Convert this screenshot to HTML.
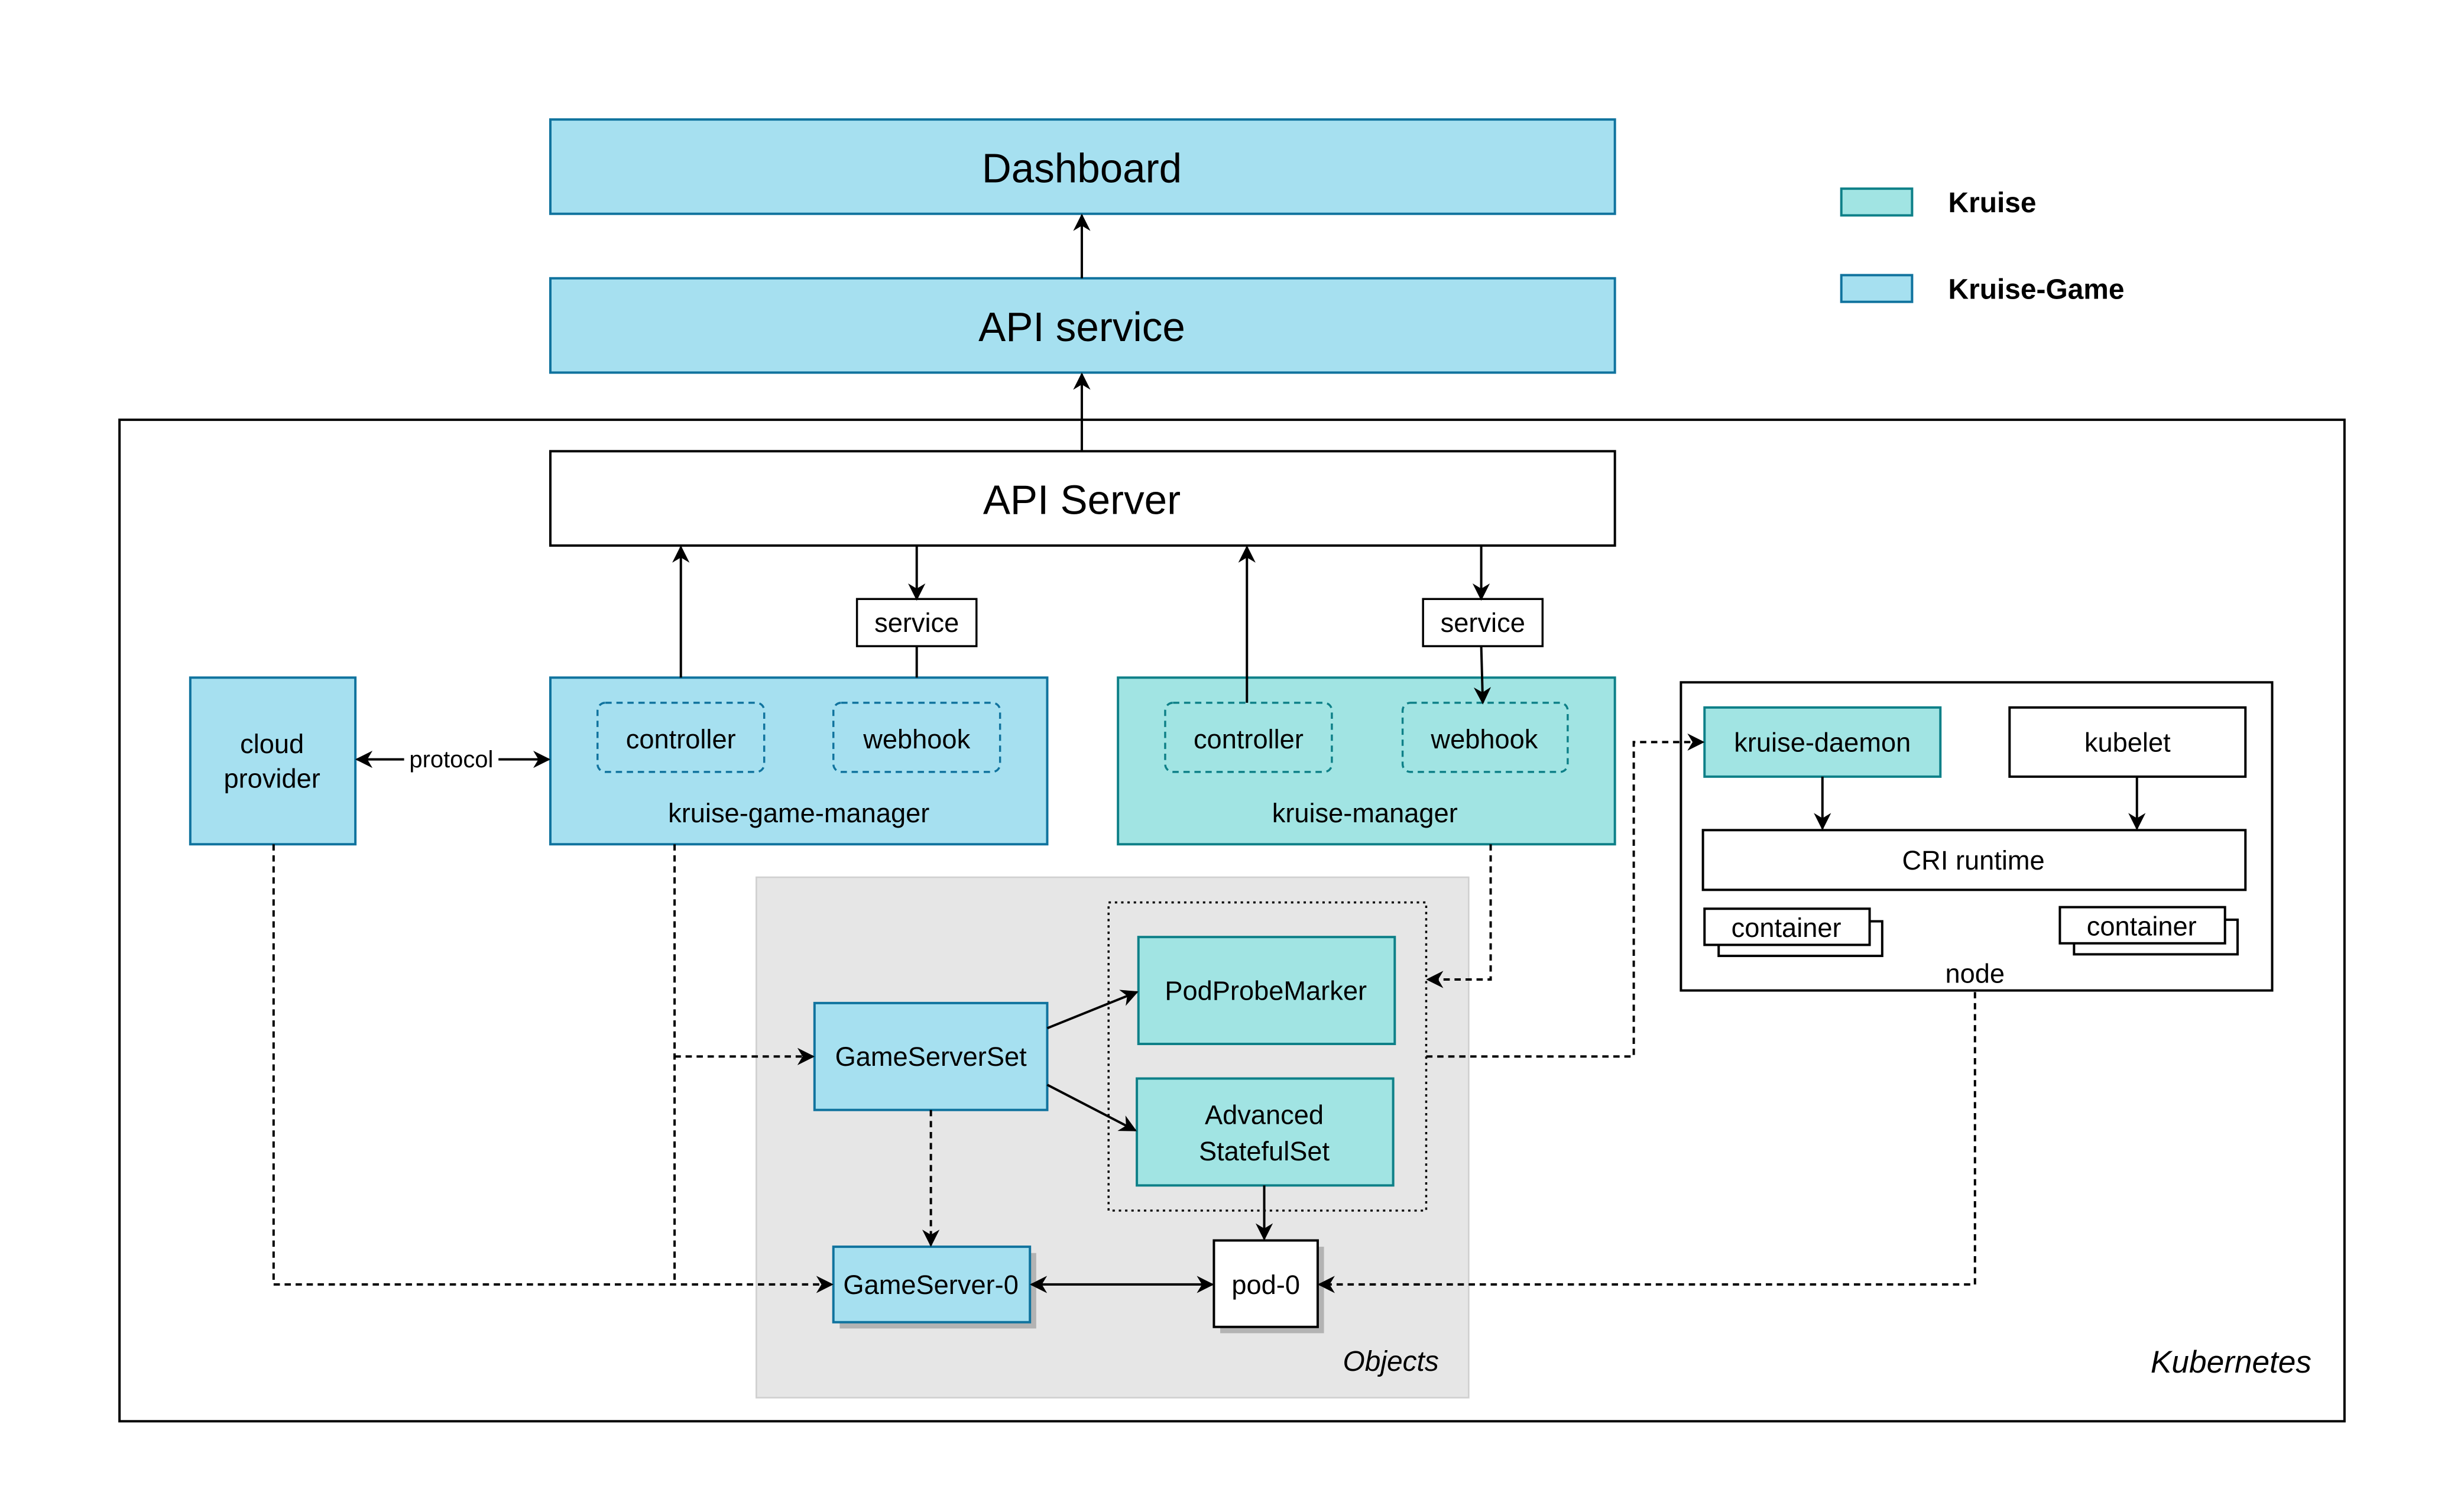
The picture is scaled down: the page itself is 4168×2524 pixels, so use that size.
<!DOCTYPE html>
<html><head><meta charset="utf-8"><style>
html,body{margin:0;padding:0;background:#fff;}
svg{display:block;}
text{font-family:"Liberation Sans",Arial,sans-serif;fill:#000;}
</style></head><body>
<svg width="4168" height="2524" viewBox="0 0 1567 949" preserveAspectRatio="none" xmlns="http://www.w3.org/2000/svg">
<defs>
<marker id="a" viewBox="0 0 10 10" refX="9" refY="5" markerWidth="11" markerHeight="11" markerUnits="userSpaceOnUse" orient="auto-start-reverse">
<path d="M0,0 L10,5 L0,10 L3,5 Z" fill="#000"/></marker>
</defs>
<rect width="1567" height="949" fill="#fff"/>
<rect x="350" y="76" width="677" height="60" fill="#a6e0f0" stroke="#10739e" stroke-width="1.5"/>
<text x="688" y="116" font-size="26" text-anchor="middle">Dashboard</text>
<rect x="350" y="177" width="677" height="60" fill="#a6e0f0" stroke="#10739e" stroke-width="1.5"/>
<text x="688" y="217" font-size="26" text-anchor="middle">API service</text>
<line x1="688" y1="177" x2="688" y2="137" stroke="#000" stroke-width="1.5" marker-end="url(#a)"/>
<line x1="688" y1="287" x2="688" y2="238" stroke="#000" stroke-width="1.5" marker-end="url(#a)"/>
<rect x="1171" y="120" width="45" height="17" fill="#a1e4e3" stroke="#0e8088" stroke-width="1.5"/>
<text x="1239" y="135" font-size="18" font-weight="bold">Kruise</text>
<rect x="1171" y="175" width="45" height="17" fill="#a6e0f0" stroke="#10739e" stroke-width="1.5"/>
<text x="1239" y="190" font-size="18" font-weight="bold">Kruise-Game</text>
<rect x="76" y="267" width="1415" height="637" fill="none" stroke="#000" stroke-width="1.5"/>
<text x="1470" y="873" font-size="20" font-style="italic" text-anchor="end">Kubernetes</text>
<rect x="350" y="287" width="677" height="60" fill="#fff" stroke="#000" stroke-width="1.5"/>
<text x="688" y="327" font-size="26" text-anchor="middle">API Server</text>
<rect x="545" y="381" width="76" height="30" fill="#fff" stroke="#000" stroke-width="1.3"/>
<text x="583" y="402" font-size="17" text-anchor="middle">service</text>
<rect x="905" y="381" width="76" height="30" fill="#fff" stroke="#000" stroke-width="1.3"/>
<text x="943" y="402" font-size="17" text-anchor="middle">service</text>
<rect x="481" y="558" width="453" height="331" fill="#e6e6e6" stroke="#d0d0d0" stroke-width="1"/>
<text x="915" y="872" font-size="18" font-style="italic" text-anchor="end">Objects</text>
<rect x="705" y="574" width="202" height="196" fill="none" stroke="#000" stroke-width="1.3" stroke-dasharray="1.5,2.5"/>
<rect x="121" y="431" width="105" height="106" fill="#a6e0f0" stroke="#10739e" stroke-width="1.5"/>
<text x="173" y="479" font-size="17" text-anchor="middle">cloud</text>
<text x="173" y="501" font-size="17" text-anchor="middle">provider</text>
<rect x="350" y="431" width="316" height="106" fill="#a6e0f0" stroke="#10739e" stroke-width="1.5"/>
<rect x="380" y="447" width="106" height="44" rx="5" fill="none" stroke="#10739e" stroke-width="1.3" stroke-dasharray="4,3"/>
<text x="433" y="476" font-size="17" text-anchor="middle">controller</text>
<rect x="530" y="447" width="106" height="44" rx="5" fill="none" stroke="#10739e" stroke-width="1.3" stroke-dasharray="4,3"/>
<text x="583" y="476" font-size="17" text-anchor="middle">webhook</text>
<text x="508" y="523" font-size="17" text-anchor="middle">kruise-game-manager</text>
<rect x="711" y="431" width="316" height="106" fill="#a1e4e3" stroke="#0e8088" stroke-width="1.5"/>
<rect x="741" y="447" width="106" height="44" rx="5" fill="none" stroke="#0e8088" stroke-width="1.3" stroke-dasharray="4,3"/>
<text x="794" y="476" font-size="17" text-anchor="middle">controller</text>
<rect x="892" y="447" width="105" height="44" rx="5" fill="none" stroke="#0e8088" stroke-width="1.3" stroke-dasharray="4,3"/>
<text x="944" y="476" font-size="17" text-anchor="middle">webhook</text>
<text x="868" y="523" font-size="17" text-anchor="middle">kruise-manager</text>
<line x1="583" y1="347" x2="583" y2="381" stroke="#000" stroke-width="1.5" marker-end="url(#a)"/>
<line x1="583" y1="411" x2="583" y2="431" stroke="#000" stroke-width="1.5"/>
<line x1="433" y1="431" x2="433" y2="348" stroke="#000" stroke-width="1.5" marker-end="url(#a)"/>
<line x1="793" y1="447" x2="793" y2="348" stroke="#000" stroke-width="1.5" marker-end="url(#a)"/>
<line x1="942" y1="347" x2="942" y2="381" stroke="#000" stroke-width="1.5" marker-end="url(#a)"/>
<line x1="942" y1="411" x2="943" y2="447" stroke="#000" stroke-width="1.5" marker-end="url(#a)"/>
<line x1="227" y1="483" x2="349" y2="483" stroke="#000" stroke-width="1.5" marker-start="url(#a)" marker-end="url(#a)"/>
<rect x="257" y="474" width="60" height="17" fill="#fff"/>
<text x="287" y="488" font-size="15" text-anchor="middle">protocol</text>
<rect x="724" y="596" width="163" height="68" fill="#a1e4e3" stroke="#0e8088" stroke-width="1.5"/>
<text x="805" y="636" font-size="17" text-anchor="middle">PodProbeMarker</text>
<rect x="723" y="686" width="163" height="68" fill="#a1e4e3" stroke="#0e8088" stroke-width="1.5"/>
<text x="804" y="715" font-size="17" text-anchor="middle">Advanced</text>
<text x="804" y="738" font-size="17" text-anchor="middle">StatefulSet</text>
<rect x="518" y="638" width="148" height="68" fill="#a6e0f0" stroke="#10739e" stroke-width="1.5"/>
<text x="592" y="678" font-size="17" text-anchor="middle">GameServerSet</text>
<rect x="534" y="797" width="125" height="48" fill="#b3b3b3"/>
<rect x="530" y="793" width="125" height="48" fill="#a6e0f0" stroke="#10739e" stroke-width="1.5"/>
<text x="592" y="823" font-size="17" text-anchor="middle">GameServer-0</text>
<rect x="776" y="793" width="66" height="55" fill="#b3b3b3"/>
<rect x="772" y="789" width="66" height="55" fill="#fff" stroke="#000" stroke-width="1.5"/>
<text x="805" y="823" font-size="17" text-anchor="middle">pod-0</text>
<line x1="666" y1="654" x2="723" y2="631" stroke="#000" stroke-width="1.5" marker-end="url(#a)"/>
<line x1="666" y1="690" x2="722" y2="719" stroke="#000" stroke-width="1.5" marker-end="url(#a)"/>
<line x1="592" y1="706" x2="592" y2="792" stroke="#000" stroke-width="1.5" stroke-dasharray="4,3" marker-end="url(#a)"/>
<line x1="804" y1="754" x2="804" y2="788" stroke="#000" stroke-width="1.5" marker-end="url(#a)"/>
<line x1="656" y1="817" x2="771" y2="817" stroke="#000" stroke-width="1.5" marker-start="url(#a)" marker-end="url(#a)"/>
<rect x="1069" y="434" width="376" height="196" fill="#fff" stroke="#000" stroke-width="1.5"/>
<rect x="1084" y="450" width="150" height="44" fill="#a1e4e3" stroke="#0e8088" stroke-width="1.5"/>
<text x="1159" y="478" font-size="17" text-anchor="middle">kruise-daemon</text>
<rect x="1278" y="450" width="150" height="44" fill="#fff" stroke="#000" stroke-width="1.5"/>
<text x="1353" y="478" font-size="17" text-anchor="middle">kubelet</text>
<rect x="1083" y="528" width="345" height="38" fill="#fff" stroke="#000" stroke-width="1.5"/>
<text x="1255" y="553" font-size="17" text-anchor="middle">CRI runtime</text>
<line x1="1159" y1="494" x2="1159" y2="527" stroke="#000" stroke-width="1.5" marker-end="url(#a)"/>
<line x1="1359" y1="494" x2="1359" y2="527" stroke="#000" stroke-width="1.5" marker-end="url(#a)"/>
<rect x="1093" y="586" width="104" height="22" fill="#fff" stroke="#000" stroke-width="1.5"/>
<rect x="1084" y="578" width="105" height="23" fill="#fff" stroke="#000" stroke-width="1.5"/>
<text x="1136" y="596" font-size="17" text-anchor="middle">container</text>
<rect x="1319" y="585" width="104" height="22" fill="#fff" stroke="#000" stroke-width="1.5"/>
<rect x="1310" y="577" width="105" height="23" fill="#fff" stroke="#000" stroke-width="1.5"/>
<text x="1362" y="595" font-size="17" text-anchor="middle">container</text>
<text x="1256" y="625" font-size="17" text-anchor="middle">node</text>
<g fill="none" stroke="#000" stroke-width="1.5" stroke-dasharray="4,3">
<polyline points="174,537 174,817 529,817" marker-end="url(#a)"/>
<polyline points="429,537 429,817"/>
<polyline points="429,672 517,672" marker-end="url(#a)"/>
<polyline points="948,537 948,623 908,623" marker-end="url(#a)"/>
<polyline points="907,672 1039,672 1039,472 1083,472" marker-end="url(#a)"/>
<polyline points="1256,631 1256,817 839,817" marker-end="url(#a)"/>
</g>
</svg>
</body></html>
